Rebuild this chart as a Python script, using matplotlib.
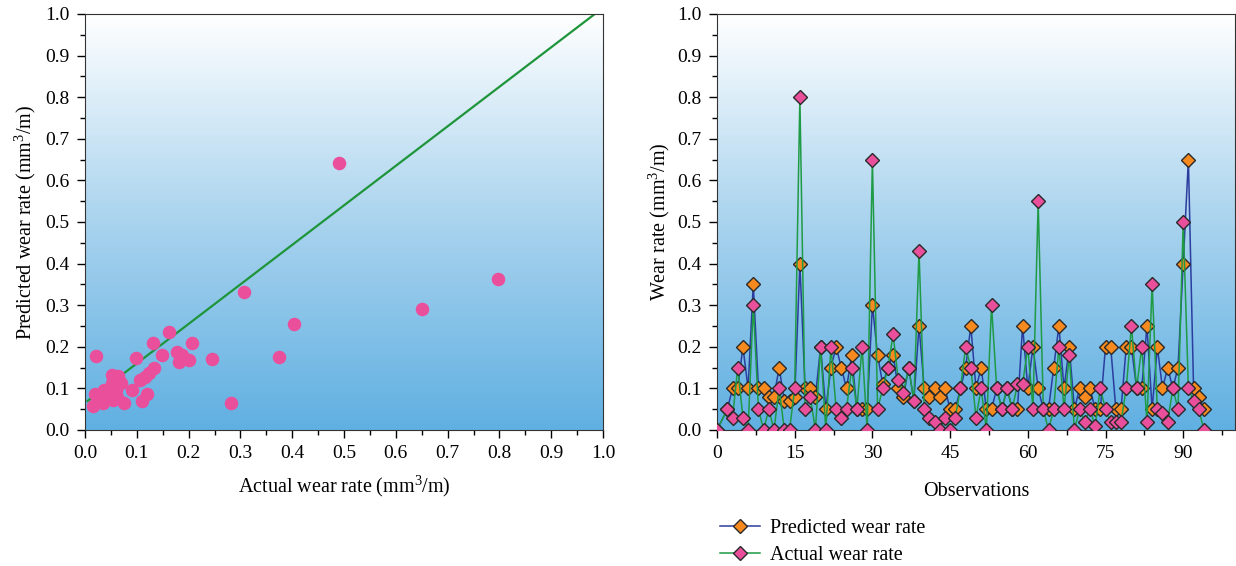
import matplotlib.pyplot as plt
import numpy as np
from matplotlib.colors import LinearSegmentedColormap

plt.rcParams['font.family'] = ['Liberation Serif', 'DejaVu Serif']
plt.rcParams['mathtext.fontset'] = 'custom'
plt.rcParams['mathtext.rm'] = 'Liberation Serif'
plt.rcParams['mathtext.it'] = 'Liberation Serif:italic'

# left panel: actual vs predicted wear rate
actual = [0.163, 0.131, 0.207, 0.022, 0.099, 0.149, 0.178, 0.187, 0.181, 0.200,
          0.245, 0.133, 0.123, 0.115, 0.107, 0.091, 0.120, 0.110, 0.052, 0.064,
          0.070, 0.052, 0.059, 0.036, 0.020, 0.062, 0.055, 0.075, 0.034, 0.015,
          0.042, 0.060, 0.306, 0.491, 0.651, 0.797, 0.403, 0.375, 0.281]
predicted = [0.235, 0.208, 0.208, 0.178, 0.174, 0.180, 0.187, 0.180, 0.164, 0.168,
             0.171, 0.148, 0.136, 0.128, 0.120, 0.096, 0.087, 0.070, 0.132, 0.130,
             0.112, 0.112, 0.096, 0.096, 0.087, 0.080, 0.072, 0.066, 0.066, 0.058,
             0.085, 0.105, 0.331, 0.643, 0.292, 0.362, 0.254, 0.176, 0.066]
fit_intercept = 0.065
fit_slope = 0.95

# right panel: per-observation series
obs = [0] + list(range(2, 95))
pred_rate = [0, 0.05, 0.1, 0.1, 0.2, 0.1, 0.35, 0.1, 0.1, 0.08,
             0.08, 0.15, 0.07, 0.07, 0.08, 0.4, 0.1, 0.1, 0.08, 0.2,
             0.05, 0.15, 0.2, 0.15, 0.1, 0.18, 0.05, 0.05, 0.05, 0.3,
             0.18, 0.11, 0.15, 0.18, 0.1, 0.08, 0.15, 0.07, 0.25, 0.1,
             0.08, 0.1, 0.08, 0.1, 0.05, 0.05, 0.1, 0.15, 0.25, 0.1,
             0.15, 0.05, 0.05, 0.1, 0.05, 0.1, 0.05, 0.05, 0.25, 0.1,
             0.2, 0.1, 0.05, 0.05, 0.15, 0.25, 0.1, 0.2, 0.05, 0.1,
             0.08, 0.1, 0.05, 0.05, 0.2, 0.2, 0.05, 0.05, 0.2, 0.2,
             0.1, 0.1, 0.25, 0.05, 0.2, 0.1, 0.15, 0.1, 0.15, 0.4,
             0.65, 0.1, 0.08, 0.05]
act_rate = [0, 0.05, 0.03, 0.15, 0.03, 0, 0.3, 0.05, 0, 0.05,
            0, 0.1, 0, 0, 0.1, 0.8, 0.05, 0.08, 0, 0.2,
            0, 0.2, 0.05, 0.03, 0.05, 0.15, 0.05, 0.2, 0, 0.65,
            0.05, 0.1, 0.15, 0.23, 0.12, 0.09, 0.15, 0.07, 0.43, 0.05,
            0.03, 0.02, 0, 0.03, 0, 0.03, 0.1, 0.2, 0.15, 0.03,
            0.1, 0, 0.3, 0.1, 0.05, 0.1, 0.05, 0.11, 0.11, 0.2,
            0.05, 0.55, 0.05, 0, 0.05, 0.2, 0.05, 0.18, 0, 0.05,
            0.02, 0.05, 0.01, 0.1, 0.05, 0.02, 0.02, 0.02, 0.1, 0.25,
            0.1, 0.2, 0.02, 0.35, 0.05, 0.04, 0.02, 0.1, 0.05, 0.5,
            0.1, 0.07, 0.05, 0]

grad = LinearSegmentedColormap.from_list('bg', ['#60b0e2', '#a9d3ee', '#ffffff'])


def gradient_bg(ax):
    g = np.linspace(0, 1, 256).reshape(-1, 1)
    ax.imshow(g, cmap=grad, origin='lower', aspect='auto',
              extent=[0, 1, 0, 1], transform=ax.transAxes, zorder=0)


def style(ax):
    ax.tick_params(direction='out', length=6, width=1, labelsize=14, pad=5)
    ax.tick_params(which='minor', direction='out', length=3.5, width=1)
    for s in ax.spines.values():
        s.set_color('#333333')


fig = plt.figure(figsize=(12.36, 5.66), dpi=100)
W, H = 1236, 566
ax1 = fig.add_axes([85 / W, 1 - 430 / H, 518 / W, 416 / H])
ax2 = fig.add_axes([717 / W, 1 - 430 / H, 518 / W, 416 / H])

gradient_bg(ax1)
ax1.scatter(actual, predicted, s=95, color='#ea4f9c', zorder=3, linewidths=0)
xf = np.array([0.005, (1 - fit_intercept) / fit_slope])
ax1.plot(xf, fit_intercept + fit_slope * xf, color='#1f953b', lw=1.6, zorder=2)
ax1.set_xlim(0, 1)
ax1.set_ylim(0, 1)
ax1.set_xticks(np.arange(0, 1.01, 0.1))
ax1.set_yticks(np.arange(0, 1.01, 0.1))
ax1.set_xticks(np.arange(0.05, 1, 0.1), minor=True)
ax1.set_yticks(np.arange(0.05, 1, 0.1), minor=True)
ax1.set_xlabel('Actual wear rate (mm$^3$/m)', fontsize=14.5, labelpad=8)
ax1.set_ylabel('Predicted wear rate (mm$^3$/m)', fontsize=14.5, labelpad=5)
style(ax1)

gradient_bg(ax2)
ax2.plot(obs, pred_rate, color='#2b3d9f', lw=1.1, marker='D', ms=7,
         mfc='#f68a1e', mec='#2a2a2a', mew=1, zorder=3, label='Predicted wear rate')
ax2.plot(obs, act_rate, color='#1f9a45', lw=1.1, marker='D', ms=7,
         mfc='#ea4f9c', mec='#2a2a2a', mew=1, zorder=4, label='Actual wear rate')
ax2.set_xlim(0, 100)
ax2.set_ylim(0, 1)
ax2.set_xticks(np.arange(0, 91, 15))
ax2.set_xticks(np.arange(7.5, 100, 15), minor=True)
ax2.set_yticks(np.arange(0, 1.01, 0.1))
ax2.set_yticks(np.arange(0.05, 1, 0.1), minor=True)
ax2.set_xlabel('Observations', fontsize=14.5, labelpad=14)
ax2.set_ylabel('Wear rate (mm$^3$/m)', fontsize=14.5, labelpad=4)
style(ax2)
ax2.legend(loc='upper left', bbox_to_anchor=(-0.03, -0.17), frameon=False,
           fontsize=14.5, handlelength=2.0, handletextpad=0.5, labelspacing=0.38)

fig.savefig('out.png', dpi=100)
